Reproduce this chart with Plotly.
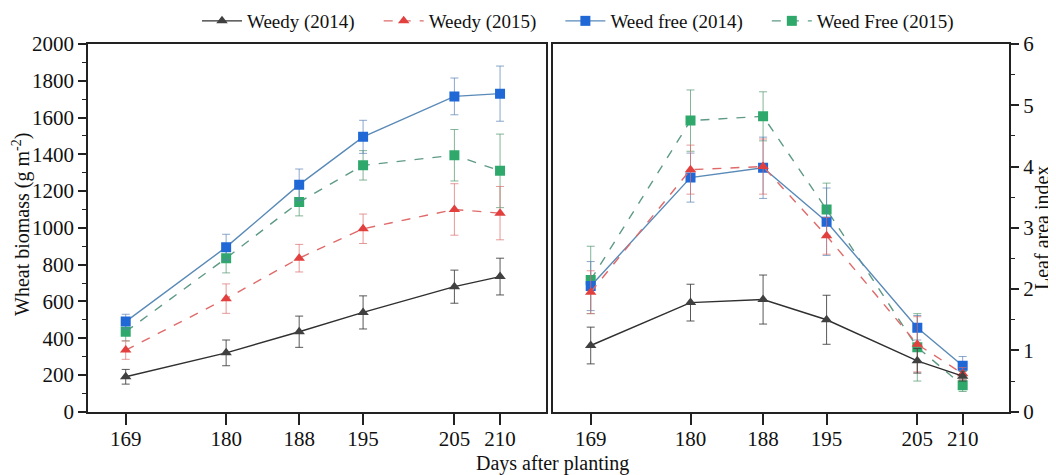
import plotly.graph_objects as go

days = [169, 180, 188, 195, 205, 210]
tick_labels = ["169", "180", "188", "195", "205", "210"]

# Wheat biomass (g m-2)
bio_weedy_2014 = [190, 320, 435, 540, 680, 735]
bio_weedy_2014_err = [40, 70, 85, 90, 90, 100]
bio_weedy_2015 = [335, 615, 835, 995, 1100, 1080]
bio_weedy_2015_err = [50, 80, 75, 80, 140, 145]
bio_free_2014 = [490, 895, 1235, 1495, 1715, 1730]
bio_free_2014_err = [40, 70, 85, 90, 100, 150]
bio_free_2015 = [435, 835, 1140, 1340, 1395, 1310]
bio_free_2015_err = [50, 80, 75, 80, 140, 200]

# Leaf area index
lai_weedy_2014 = [1.08, 1.78, 1.83, 1.50, 0.83, 0.58]
lai_weedy_2014_err = [0.30, 0.30, 0.40, 0.40, 0.20, 0.08]
lai_weedy_2015 = [1.95, 3.95, 4.00, 2.87, 1.10, 0.62]
lai_weedy_2015_err = [0.35, 0.40, 0.45, 0.30, 0.45, 0.10]
lai_free_2014 = [2.05, 3.82, 3.98, 3.10, 1.37, 0.75]
lai_free_2014_err = [0.40, 0.40, 0.50, 0.55, 0.20, 0.15]
lai_free_2015 = [2.15, 4.75, 4.82, 3.30, 1.05, 0.43]
lai_free_2015_err = [0.55, 0.50, 0.40, 0.43, 0.55, 0.10]

names = ["Weedy (2014)", "Weedy (2015)", "Weed free (2014)", "Weed Free (2015)"]
marker_colors = ["#404040", "#e2403f", "#1f68d6", "#2fa86b"]
line_colors = ["#303030", "#e06a6a", "#5a8ab8", "#5e9a86"]
err_colors = ["rgba(60,60,60,0.85)", "rgba(220,110,110,0.7)", "rgba(90,130,180,0.7)", "rgba(80,150,110,0.7)"]
dashes = ["solid", "dash", "solid", "dash"]
symbols = ["triangle-up", "triangle-up", "square", "square"]

bio = [(bio_weedy_2014, bio_weedy_2014_err), (bio_weedy_2015, bio_weedy_2015_err),
       (bio_free_2014, bio_free_2014_err), (bio_free_2015, bio_free_2015_err)]
lai = [(lai_weedy_2014, lai_weedy_2014_err), (lai_weedy_2015, lai_weedy_2015_err),
       (lai_free_2014, lai_free_2014_err), (lai_free_2015, lai_free_2015_err)]

W, H = 1056, 475
OFF = 8  # default page body margin
PAD = "\u00a0" * 4  # extra spacing between legend entries


def px(x):
    return (x - OFF) / W


def py(y):
    return 1 - (y - OFF) / H


fig = go.Figure()
order = [3, 2, 1, 0]
for i in order:
    y, e = bio[i]
    fig.add_trace(go.Scatter(
        x=days, y=y, name=names[i], mode="lines+markers",
        line=dict(color=line_colors[i], width=1.4, dash=dashes[i]),
        marker=dict(symbol=symbols[i], size=10, color=marker_colors[i]),
        error_y=dict(type="data", array=e, visible=True, color=err_colors[i], thickness=1, width=4),
        xaxis="x", yaxis="y", showlegend=False, legendrank=i + 1))
for i in order:
    y, e = lai[i]
    fig.add_trace(go.Scatter(
        x=days, y=y, name=names[i] + (PAD if i < 3 else ""), mode="lines+markers",
        line=dict(color=line_colors[i], width=1.4, dash=dashes[i]),
        marker=dict(symbol=symbols[i], size=10, color=marker_colors[i]),
        error_y=dict(type="data", array=e, visible=True, color=err_colors[i], thickness=1, width=4),
        xaxis="x2", yaxis="y2", showlegend=True, legendrank=i + 1))

font_family = "Times New Roman, Liberation Serif, serif"
axis_common = dict(showline=True, linecolor="#222", linewidth=1.7, mirror=True,
                   showgrid=False, zeroline=False, ticks="outside", tickcolor="#222",
                   tickfont=dict(family=font_family, size=21, color="#111"))

fig.update_layout(
    width=W, height=H,
    margin=dict(l=0, r=0, t=0, b=0, autoexpand=False),
    paper_bgcolor="white", plot_bgcolor="white",
    font=dict(family=font_family, size=20, color="#111"),
    xaxis=dict(domain=[px(88), px(545.7)], range=[164.87, 215.0], tickvals=days,
               ticktext=tick_labels, ticklen=11, tickwidth=2, ticklabelstandoff=-4,
               anchor="y", **axis_common),
    yaxis=dict(domain=[py(411.7), py(44)], range=[0, 2000], dtick=200, ticklen=8, tickwidth=1.6,
               minor=dict(ticks="outside", dtick=100, ticklen=4, tickcolor="#222", tickwidth=1.4),
               anchor="x", **axis_common),
    xaxis2=dict(domain=[px(552.7), px(1009.3)], range=[164.81, 215.14], tickvals=days,
                ticktext=tick_labels, ticklen=11, tickwidth=2, ticklabelstandoff=-4,
                anchor="y2", **axis_common),
    yaxis2=dict(domain=[py(411.7), py(44)], range=[0, 6], dtick=1, ticklen=8, tickwidth=1.6,
                side="right",
                minor=dict(ticks="outside", dtick=0.5, ticklen=4, tickcolor="#222", tickwidth=1.4),
                anchor="x2", **axis_common),
    legend=dict(orientation="h", x=px(578), xanchor="center", y=py(21), yanchor="middle",
                font=dict(family=font_family, size=19, color="#111"),
                itemwidth=40, traceorder="normal", bgcolor="rgba(0,0,0,0)"),
    annotations=[
        dict(text="Days after planting", x=px(552), y=py(463), xref="paper", yref="paper",
             showarrow=False, font=dict(family=font_family, size=20, color="#111"),
             xanchor="center", yanchor="middle"),
        dict(text="Wheat biomass (g m<sup>-2</sup>)", x=px(21), y=py(225), xref="paper", yref="paper",
             showarrow=False, textangle=-90, font=dict(family=font_family, size=20, color="#111"),
             xanchor="center", yanchor="middle"),
        dict(text="Leaf area index", x=px(1042), y=py(228), xref="paper", yref="paper",
             showarrow=False, textangle=-90, font=dict(family=font_family, size=20, color="#111"),
             xanchor="center", yanchor="middle"),
    ],
)

fig.write_html("out.html")
